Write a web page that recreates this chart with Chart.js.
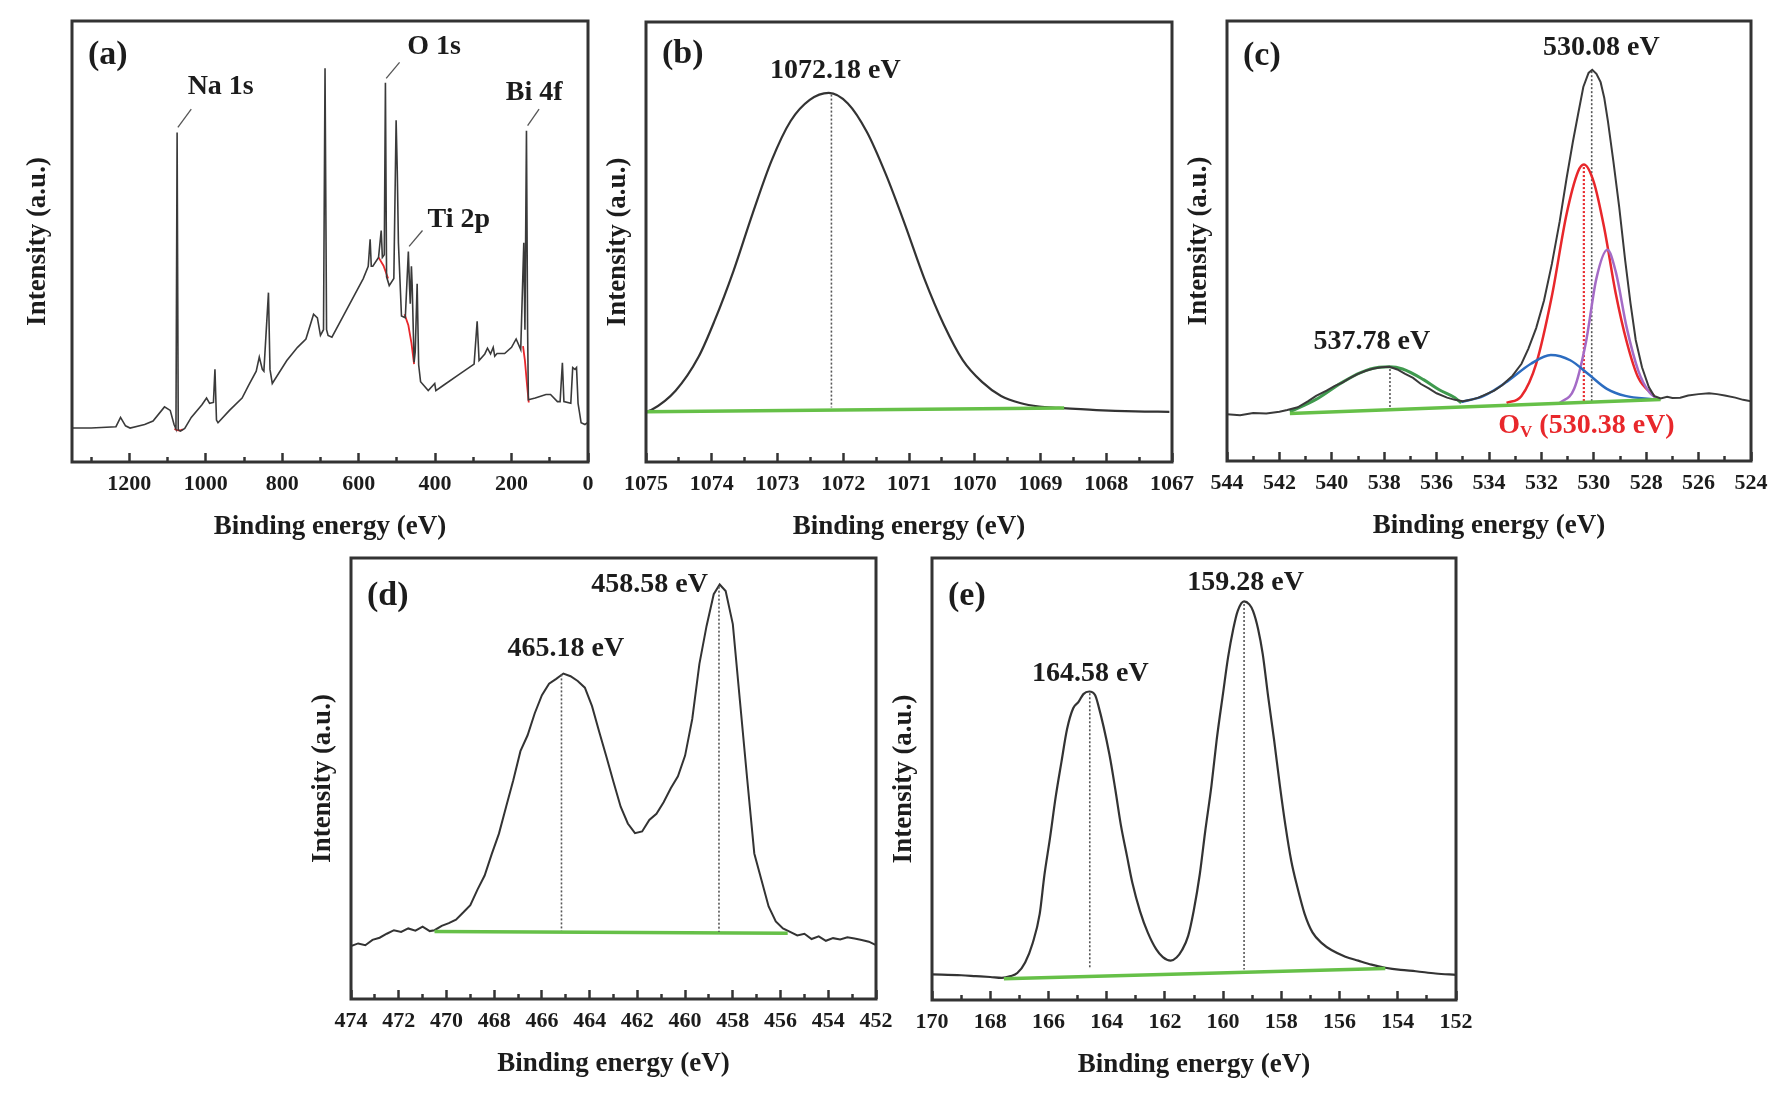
<!DOCTYPE html>
<html><head><meta charset="utf-8">
<script src="https://cdn.jsdelivr.net/npm/chart.js@4/dist/chart.umd.min.js"></script>
<style>
html,body{margin:0;padding:0;background:#fff;width:1782px;height:1109px;overflow:hidden;}
canvas{position:absolute;}
</style></head><body>
<canvas id="ca"></canvas><canvas id="cb"></canvas><canvas id="cc"></canvas><canvas id="cd"></canvas><canvas id="ce"></canvas>
<script>
// ---------------- DATA ----------------
// (a) survey spectrum
const surveyEnergy = [1355,1300,1235,1223,1210,1198,1160,1138,1108,1093,1083,1078,1075,1072,1066,1055,1038,1010,998,990,980,976,972,968,938,905,888,868,860,852,848,836,832,826,788,760,738,718,708,700,692,688,684,680,670,638,588,575,570,567,563,548,541,538,533,530,527,520,508,502,499,496,495,488,478,470,467,465,462,460,455,452,447,443,438,418,401,398,378,338,298,290,285,270,263,255,248,244,238,218,200,188,176,168,165,161,158,156,138,110,98,80,73,67,63,45,40,34,30,26,18,8,0];
const surveyIntensity = [7.7,7.7,8.0,10.1,8.2,7.7,8.5,9.3,12.5,11.7,8.5,7.5,74.7,7.3,7.0,7.6,10.1,13.0,14.5,13.3,13.5,21.0,9.5,8.9,11.7,14.5,17.4,20.6,23.8,21.0,20.6,38.4,21.0,17.8,23.0,26.0,27.9,33.5,32.7,28.7,30.0,89.3,30.0,28.7,28.3,33.5,41.6,44.4,50.5,44.4,44.4,46.4,52.5,46.4,47.0,86.0,42.0,40.0,41.6,77.5,66.0,49.7,49.7,33.1,32.7,47.7,40.0,35.9,44.4,40.0,22.6,25.0,40.4,22.0,18.2,16.2,17.8,16.2,17.4,19.8,22.2,31.9,23.0,24.5,25.8,24.5,26.0,24.0,24.6,24.6,26.0,27.9,25.5,49.7,30.0,75.1,30.0,14.1,14.5,15.3,15.3,13.7,13.7,22.5,13.7,13.3,21.4,21.0,21.4,13.3,8.9,8.5,9.0];
const surveyBgNaE = [1082,1075,1068,1060]; const surveyBgNaI = [7.5,7.2,7.1,7.4];
const surveyBgOE = [548,535,523]; const surveyBgOI = [46.4,44.5,41.6];
const surveyBgTiE = [480,470,462,455]; const surveyBgTiI = [33.5,31.0,27.0,22.2];
const surveyBgBiE = [170,165,160,155]; const surveyBgBiI = [26.3,23.0,18.0,13.5];
const surveyLabels = ['Na 1s','O 1s','Ti 2p','Bi 4f'];
const surveyLabelE = [961,403,338,141];
const surveyLabelI = [85.0,94.1,54.9,83.8];
const leaderE = [[1038,1073],[493,528],[433,468],[128,158]];
const leaderI = [[80.0,75.9],[90.6,87.0],[52.5,48.9],[80.0,76.3]];
const aMajor = [0,200,400,600,800,1000,1200];
const aMinor = [100,300,500,700,900,1100,1300];

// (b) Na 1s
const naEnergy = [1075,1074.92,1074.55,1074.2,1073.96,1073.67,1073.38,1073.09,1072.8,1072.51,1072.22,1071.93,1071.64,1071.35,1071.06,1070.77,1070.47,1070.18,1069.89,1069.6,1069.31,1069.02,1068.73,1068.15,1067.56,1067.04];
const naIntensity = [11.4,11.8,16.2,23.9,32.0,43.4,56.4,68.5,77.5,82.3,83.9,81.5,75.0,65.3,53.9,41.8,31.2,23.1,18.2,15.0,13.4,12.6,12.3,11.8,11.5,11.4];
const naBaseE = [1075,1068.64]; const naBaseI = [11.4,12.3];
const naPeak = 1072.18;
const bMajor = [1067,1068,1069,1070,1071,1072,1073,1074,1075];
const bMinor = [1067.5,1068.5,1069.5,1070.5,1071.5,1072.5,1073.5,1074.5];

// (c) O 1s
const oEnergy = [544.0,543.5,543.0,542.5,542.0,541.7,541.3,540.9,540.6,540.2,539.9,539.6,539.3,539.0,538.7,538.4,538.1,537.8,537.5,537.2,536.9,536.6,536.3,536.0,535.6,535.3,535.0,534.7,534.4,534.1,533.8,533.5,533.1,532.76,532.5,532.2,531.9,531.6,531.3,531.04,530.8,530.6,530.4,530.2,530.06,529.9,529.74,529.6,529.46,529.25,529.03,528.8,528.6,528.4,528.16,527.9,527.7,527.45,527.2,527.0,526.7,526.4,526.0,525.6,525.3,525.0,524.6,524.3,524.0];
const oIntensity = [10.6,10.4,10.9,10.8,11.2,11.6,12.2,13.6,14.8,16.0,17.0,17.8,18.9,19.8,20.5,21.0,21.3,21.4,20.8,19.8,18.9,17.5,16.5,15.4,14.4,13.9,13.6,13.9,14.4,15.2,16.0,17.2,19.4,22.1,25.5,30.2,36.5,44.8,54.5,64.2,72.5,78.8,85.0,88.2,88.9,88.0,86.1,82.5,77.2,68.0,57.7,45.5,35.9,27.5,21.3,16.8,14.8,14.2,14.6,14.3,14.4,14.9,15.2,15.4,15.2,14.9,14.4,13.9,13.6];
const oSatE = [541.6,540.6,539.65,538.9,538.2,537.8,537.3,536.5,535.9,535.3,535.06];
const oSatI = [11.2,14.0,17.7,20.1,21.3,21.4,20.9,18.5,16.2,14.4,13.2];
const oBlueE = [535.06,534.2,533.3,532.4,531.64,530.9,530.2,529.5,528.8,527.7];
const oBlueI = [13.4,14.8,18.1,22.1,24.1,22.9,19.7,16.4,14.8,14.0];
const oRedE = [533.33,532.76,532.2,531.6,531.04,530.6,530.38,530.0,529.6,529.17,528.74,528.3,527.7];
const oRedI = [13.2,14.8,22.1,37.5,56.1,65.8,67.4,63.4,52.9,38.3,27.0,18.9,14.8];
const oPurpleE = [531.3,530.75,530.3,529.9,529.48,529.17,528.74,528.3,527.88,527.6];
const oPurpleI = [13.2,16.4,27.0,41.5,48.0,43.2,30.2,20.5,15.6,14.2];
const oBaseE = [541.6,527.45]; const oBaseI = [10.8,14.0];
const oPeaks = [537.78,530.08,530.38];
const cMajor = [524,526,528,530,532,534,536,538,540,542,544];
const cMinor = [525,527,529,531,533,535,537,539,541,543];

// (d) Ti 2p
const tiEnergy = [474.0,473.7,473.4,473.1,472.8,472.5,472.2,471.9,471.6,471.3,471.0,470.7,470.5,470.2,469.9,469.6,469.3,469.0,468.7,468.4,468.1,467.8,467.5,467.2,466.9,466.6,466.3,466.0,465.7,465.4,465.1,464.8,464.5,464.2,463.9,463.6,463.3,463.0,462.7,462.4,462.1,461.8,461.5,461.2,460.9,460.6,460.3,460.0,459.7,459.4,459.1,458.8,458.55,458.3,458.0,457.7,457.4,457.1,456.8,456.5,456.2,455.9,455.6,455.3,455.0,454.7,454.4,454.1,453.8,453.5,453.2,452.9,452.6,452.3,452.0];
const tiIntensity = [12.0,12.6,12.2,13.4,13.9,14.8,15.6,15.2,16.0,15.5,16.4,15.4,15.6,16.6,17.2,18.0,19.6,21.3,24.8,28.0,32.9,37.5,43.6,49.6,56.2,59.8,64.8,68.9,71.5,72.6,73.8,73.2,72.1,70.6,66.4,60.6,55.0,49.2,43.6,39.8,37.6,38.0,40.6,42.0,44.6,47.8,50.5,55.2,63.5,76.0,84.6,91.8,94.0,92.5,85.0,67.5,50.0,33.0,27.0,21.0,17.6,16.0,15.2,14.4,14.8,13.6,14.2,13.2,13.8,13.5,14.0,13.7,13.4,13.0,12.2];
const tiBaseE = [470.5,455.7]; const tiBaseI = [15.3,14.9];
const tiPeaks = [465.18,458.58];
const dMajor = [452,454,456,458,460,462,464,466,468,470,472,474];
const dMinor = [453,455,457,459,461,463,465,467,469,471,473];

// (e) Bi 4f
const biEnergy = [170.0,169.0,168.5,168.0,167.6,167.3,167.07,166.8,166.54,166.3,166.14,165.95,165.75,165.55,165.36,165.15,164.96,164.8,164.6,164.4,164.3,163.91,163.7,163.51,163.3,163.12,162.85,162.59,162.3,162.07,161.8,161.6,161.41,161.2,161.01,160.8,160.62,160.4,160.22,160.0,159.83,159.65,159.5,159.28,159.1,158.97,158.8,158.64,158.45,158.25,158.05,157.86,157.66,157.46,157.2,156.93,156.6,156.28,155.8,155.36,154.9,154.43,153.9,153.38,152.7,152.0];
const biIntensity = [5.8,5.6,5.4,5.2,5.0,5.4,6.1,8.5,12.9,19.5,28.2,36.5,46.0,54.0,61.3,66.0,67.5,69.2,69.8,69.0,67.0,55.7,47.5,39.5,32.5,26.6,20.0,15.3,11.5,9.7,8.9,9.6,11.3,14.5,20.2,28.5,37.9,48.5,58.9,69.5,77.5,84.0,88.0,90.2,89.5,88.0,84.0,78.3,68.5,58.9,48.5,39.5,31.5,25.8,19.5,15.3,12.8,11.3,9.8,8.9,8.0,7.3,6.8,6.5,6.0,5.7];
const biBaseE = [167.53,154.43]; const biBaseI = [4.8,7.1];
const biPeaks = [164.58,159.28];
const eMajor = [152,154,156,158,160,162,164,166,168,170];
const eMinor = [153,155,157,159,161,163,165,167,169];

// ---------------- RENDERING ----------------
const FONT = "'Liberation Serif','Times New Roman',serif";
const INK = '#333333';
const TXT = '#1c1c1c';
const GREEN = '#66c048';
const DGREEN = '#3f9a4e';
const RED = '#e8272b';
const BLUE = '#2c6cc0';
const PURPLE = '#a46bc6';
const DOT = '#555555';

function pts(xs, ys){ return xs.map((x,i)=>({x:x, y:ys[i]})); }
function line(xs, ys, color, width, extra){
  return Object.assign({data: pts(xs,ys), borderColor: color, borderWidth: width, pointRadius: 0,
    fill: false, tension: 0, xAxisID: 'x', yAxisID: 'y'}, extra || {});
}
function smooth(xs, ys, color, width){ return line(xs, ys, color, width, {cubicInterpolationMode: 'monotone'}); }
function dotted(x, y0, y1, color, width){ return line([x,x],[y0,y1],color,width||1.6,{borderDash:[2,2]}); }

function makeChart(id, frame, cfg){
  const yW = cfg.yW, padTop = 6, padRight = 30, xH = 81;
  const canvas = document.getElementById(id);
  const w = yW + (frame.R - frame.L) + padRight;
  const h = padTop + (frame.B - frame.T) + xH;
  canvas.width = w; canvas.height = h;
  canvas.style.left = (frame.L - yW) + 'px';
  canvas.style.top = (frame.T - padTop) + 'px';
  canvas.style.width = w + 'px'; canvas.style.height = h + 'px';

  const decor = {
    id: 'decor',
    afterDraw(chart){
      const ctx = chart.ctx, a = chart.chartArea;
      const xs = chart.scales.x, ys = chart.scales.y;
      ctx.save();
      ctx.strokeStyle = INK; ctx.lineWidth = 3;
      ctx.strokeRect(a.left, a.top, a.right - a.left, a.bottom - a.top);
      ctx.fillStyle = TXT; ctx.textBaseline = 'middle';
      ctx.font = 'bold 34px ' + FONT; ctx.textAlign = 'left';
      ctx.fillText(cfg.letter, a.left + 16, a.top + cfg.letterDy);
      for (const n of cfg.notes){
        const px = xs.getPixelForValue(n.x), py = ys.getPixelForValue(n.y);
        ctx.fillStyle = n.color || TXT;
        if (n.parts){
          let total = 0;
          for (const p of n.parts){ ctx.font = 'bold ' + p.size + 'px ' + FONT; total += ctx.measureText(p.t).width; }
          let cx = px - total/2;
          ctx.textAlign = 'left';
          for (const p of n.parts){
            ctx.font = 'bold ' + p.size + 'px ' + FONT;
            ctx.fillText(p.t, cx, py + (p.dy||0));
            cx += ctx.measureText(p.t).width;
          }
        } else {
          ctx.font = 'bold ' + (n.size || 28) + 'px ' + FONT;
          ctx.textAlign = 'center';
          ctx.fillText(n.text, px, py);
        }
      }
      ctx.restore();
    }
  };

  new Chart(canvas, {
    type: 'line',
    data: { datasets: cfg.datasets },
    options: {
      responsive: false, animation: false, devicePixelRatio: 1,
      layout: { padding: { left: 0, top: padTop, right: padRight, bottom: 0 } },
      plugins: { legend: { display: false }, tooltip: { enabled: false } },
      scales: {
        x: {
          type: 'linear', position: 'bottom', weight: 1, min: cfg.min, max: cfg.max, reverse: true,
          afterBuildTicks: s => { s.ticks = cfg.major.map(v => ({value: v})); },
          afterFit: s => { s.height = xH; s.paddingLeft = 0; s.paddingRight = 0; },
          ticks: { autoSkip: false, maxRotation: 0, minRotation: 0, padding: 18, color: TXT,
                   font: { family: FONT, size: 22, weight: 'bold' }, callback: v => String(v) },
          grid: { drawOnChartArea: false, drawTicks: true, tickLength: -9, tickWidth: 2.5, tickColor: INK },
          border: { display: false },
          title: { display: true, text: 'Binding energy (eV)', color: TXT, padding: 0,
                   font: { family: FONT, size: 27, weight: 'bold' } }
        },
        x2: {
          type: 'linear', position: 'bottom', weight: 0, min: cfg.min, max: cfg.max, reverse: true,
          afterBuildTicks: s => { s.ticks = cfg.minor.map(v => ({value: v})); },
          afterFit: s => { s.height = 0; s.paddingLeft = 0; s.paddingRight = 0; },
          ticks: { autoSkip: false, maxRotation: 0, minRotation: 0, callback: () => '', font: { size: 1 } },
          grid: { drawOnChartArea: false, drawTicks: true, tickLength: -5, tickWidth: 2.5, tickColor: INK },
          border: { display: false }
        },
        y: {
          type: 'linear', position: 'left', min: 0, max: 100,
          afterFit: s => { s.width = yW; s.paddingTop = 0; s.paddingBottom = 0; },
          ticks: { display: false }, grid: { display: false }, border: { display: false },
          title: { display: true, text: 'Intensity (a.u.)', color: TXT, padding: 0,
                   font: { family: FONT, size: 27, weight: 'bold' } }
        }
      }
    },
    plugins: [decor]
  });
}

// (a)
const aSets = [
  line(surveyEnergy, surveyIntensity, '#3a3a3a', 1.6),
  line(surveyBgNaE, surveyBgNaI, RED, 1.8),
  line(surveyBgOE, surveyBgOI, RED, 1.8),
  line(surveyBgTiE, surveyBgTiI, RED, 1.8),
  line(surveyBgBiE, surveyBgBiI, RED, 1.8)
];
leaderE.forEach((e,i) => aSets.push(line(e, leaderI[i], '#555', 1.3)));
makeChart('ca', {L:72,T:21,R:588,B:462}, {
  yW: 50, min: 0, max: 1350, major: aMajor, minor: aMinor, letter: '(a)', letterDy: 34,
  datasets: aSets,
  notes: surveyLabels.map((t,i) => ({text: t, x: surveyLabelE[i], y: surveyLabelI[i]}))
});

// (b)
makeChart('cb', {L:646,T:22,R:1172,B:462}, {
  yW: 44, min: 1067, max: 1075, major: bMajor, minor: bMinor, letter: '(b)', letterDy: 32,
  datasets: [
    dotted(naPeak, 83.5, 12.4, DOT),
    line(naBaseE, naBaseI, GREEN, 3.5),
    smooth(naEnergy, naIntensity, INK, 2.2)
  ],
  notes: [{text: '1072.18 eV', x: 1072.12, y: 88.9}]
});

// (c)
makeChart('cc', {L:1227,T:21,R:1751,B:461}, {
  yW: 44, min: 524, max: 544, major: cMajor, minor: cMinor, letter: '(c)', letterDy: 35,
  datasets: [
    line(oEnergy, oIntensity, '#3a3a3a', 2),
    line(oBaseE, oBaseI, GREEN, 3.5),
    smooth(oSatE, oSatI, DGREEN, 3),
    smooth(oBlueE, oBlueI, BLUE, 2.5),
    smooth(oPurpleE, oPurpleI, PURPLE, 2.5),
    smooth(oRedE, oRedI, RED, 2.5),
    dotted(oPeaks[0], 20.9, 11.6, DOT),
    dotted(oPeaks[1], 88.6, 13.4, DOT),
    dotted(oPeaks[2], 66.8, 13.2, RED, 2.2)
  ],
  notes: [
    {text: '530.08 eV', x: 529.71, y: 93.9},
    {text: '537.78 eV', x: 538.47, y: 27.0},
    {x: 530.28, y: 8.0, color: RED, parts: [{t:'O', size:28}, {t:'V', size:17, dy:7}, {t:' (530.38 eV)', size:28}]}
  ]
});

// (d)
makeChart('cd', {L:351,T:558,R:876,B:999}, {
  yW: 44, min: 452, max: 474, major: dMajor, minor: dMinor, letter: '(d)', letterDy: 38,
  datasets: [
    dotted(tiPeaks[0], 73.6, 15.5, DOT),
    dotted(tiPeaks[1], 93.5, 15.2, DOT),
    line(tiBaseE, tiBaseI, GREEN, 3.5),
    line(tiEnergy, tiIntensity, INK, 2)
  ],
  notes: [
    {text: '458.58 eV', x: 461.49, y: 93.9},
    {text: '465.18 eV', x: 465.0, y: 79.4}
  ]
});

// (e)
makeChart('ce', {L:932,T:558,R:1456,B:1000}, {
  yW: 44, min: 152, max: 170, major: eMajor, minor: eMinor, letter: '(e)', letterDy: 38,
  datasets: [
    dotted(biPeaks[0], 69.4, 7.3, DOT),
    dotted(biPeaks[1], 89.6, 6.9, DOT),
    line(biBaseE, biBaseI, GREEN, 3.5),
    smooth(biEnergy, biIntensity, INK, 2.2)
  ],
  notes: [
    {text: '159.28 eV', x: 159.23, y: 94.3},
    {text: '164.58 eV', x: 164.56, y: 73.8}
  ]
});
</script>
</body></html>
